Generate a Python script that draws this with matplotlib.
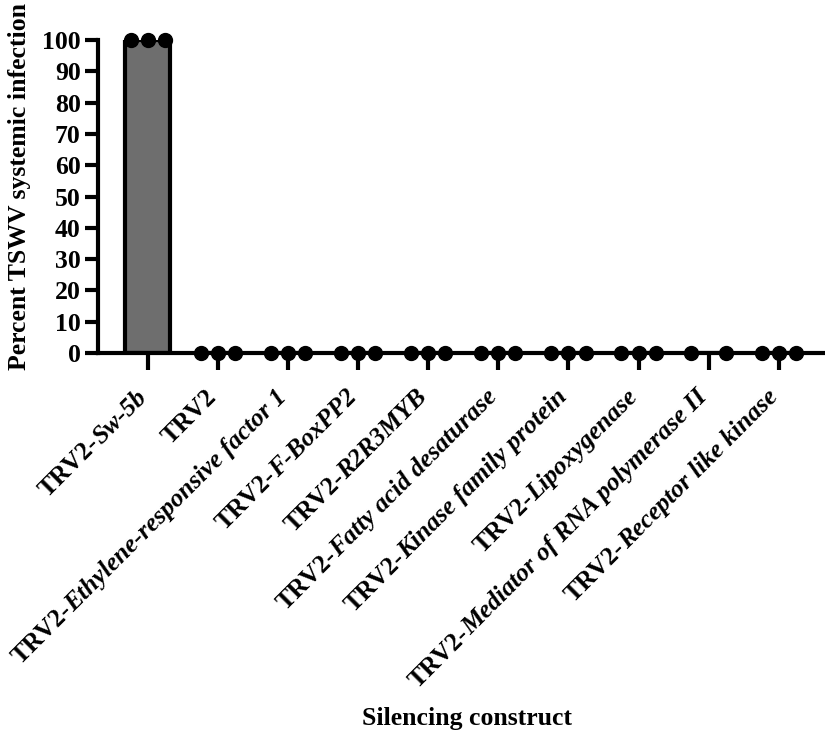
import matplotlib
matplotlib.use("Agg")
import matplotlib.pyplot as plt
import matplotlib.transforms as mtransforms
import numpy as np

plt.rcParams["font.family"] = "Liberation Serif"
plt.rcParams["font.weight"] = "bold"

# label = upright prefix + italic gene name
prefixes = ["TRV2-", "TRV2", "TRV2-", "TRV2-", "TRV2-", "TRV2-",
            "TRV2-", "TRV2-", "TRV2-", "TRV2-"]
genes = ["Sw-5b", "", "Ethylene-responsive factor 1", "F-BoxPP2", "R2R3MYB",
         "Fatty acid desaturase", "Kinase family protein", "Lipoxygenase",
         "Mediator of RNA polymerase II", "Receptor like kinase"]

# percent systemic infection per replicate
replicates = [
    [100, 100, 100],
    [0, 0, 0],
    [0, 0, 0],
    [0, 0, 0],
    [0, 0, 0],
    [0, 0, 0],
    [0, 0, 0],
    [0, 0, 0],
    [0, 0],
    [0, 0, 0],
]

yticks = list(range(0, 101, 10))

fig = plt.figure(figsize=(8.25, 7.39), dpi=100)
ax = fig.add_axes([98 / 825, 1 - 353 / 739, 1 - 98 / 825, (353 - 40) / 739])

x = np.arange(len(genes))
means = [np.mean(r) for r in replicates]
ax.bar(x, means, width=0.64, color="#6e6e6e", edgecolor="black",
       linewidth=3, zorder=2)

for i, reps in enumerate(replicates):
    if len(reps) == 3:
        offs = [-0.245, 0, 0.245]
    else:
        offs = [-0.245, 0.245]
    ax.plot(i + np.array(offs), reps, "o", color="black", markersize=10,
            clip_on=False, zorder=5)

ax.set_xlim(-0.71, 9.66)
ax.set_ylim(0, 100)
ax.set_yticks(yticks)
ax.set_xticks(x)
ax.set_xticklabels([])
for s in ["top", "right"]:
    ax.spines[s].set_visible(False)
for s in ["left", "bottom"]:
    ax.spines[s].set_linewidth(3)
ax.tick_params(axis="y", width=3, length=9.5, labelsize=18.5, pad=3)
ax.tick_params(axis="x", width=3, length=12)

fig.canvas.draw()
renderer = fig.canvas.get_renderer()
c = np.cos(np.deg2rad(45))
dx, dy = 0, -45
fs = 18.5
for i, (pre, gene) in enumerate(zip(prefixes, genes)):
    shift = 0
    if gene:
        tr = mtransforms.offset_copy(ax.get_xaxis_transform(), fig=fig,
                                     x=dx, y=dy, units="dots")
        ax.text(i, 0, gene, transform=tr, rotation=45, rotation_mode="anchor",
                ha="right", va="baseline", fontsize=fs, fontweight="bold",
                style="italic")
        probe = fig.text(0, 0, gene, fontsize=fs, fontweight="bold", style="italic")
        shift = probe.get_window_extent(renderer).width
        probe.remove()
    tr = mtransforms.offset_copy(ax.get_xaxis_transform(), fig=fig,
                                 x=dx - shift * c, y=dy - shift * c, units="dots")
    ax.text(i, 0, pre, transform=tr, rotation=45, rotation_mode="anchor",
            ha="right", va="baseline", fontsize=fs, fontweight="bold")

fig.text(20 / 825, 1 - 186 / 739, "Percent TSWV systemic infection",
         rotation=90, ha="center", va="center", fontsize=18.5, fontweight="bold")
fig.text(467 / 825, 1 - 718 / 739, "Silencing construct",
         ha="center", va="center", fontsize=18.5, fontweight="bold")

fig.savefig("out.png", dpi=100)
